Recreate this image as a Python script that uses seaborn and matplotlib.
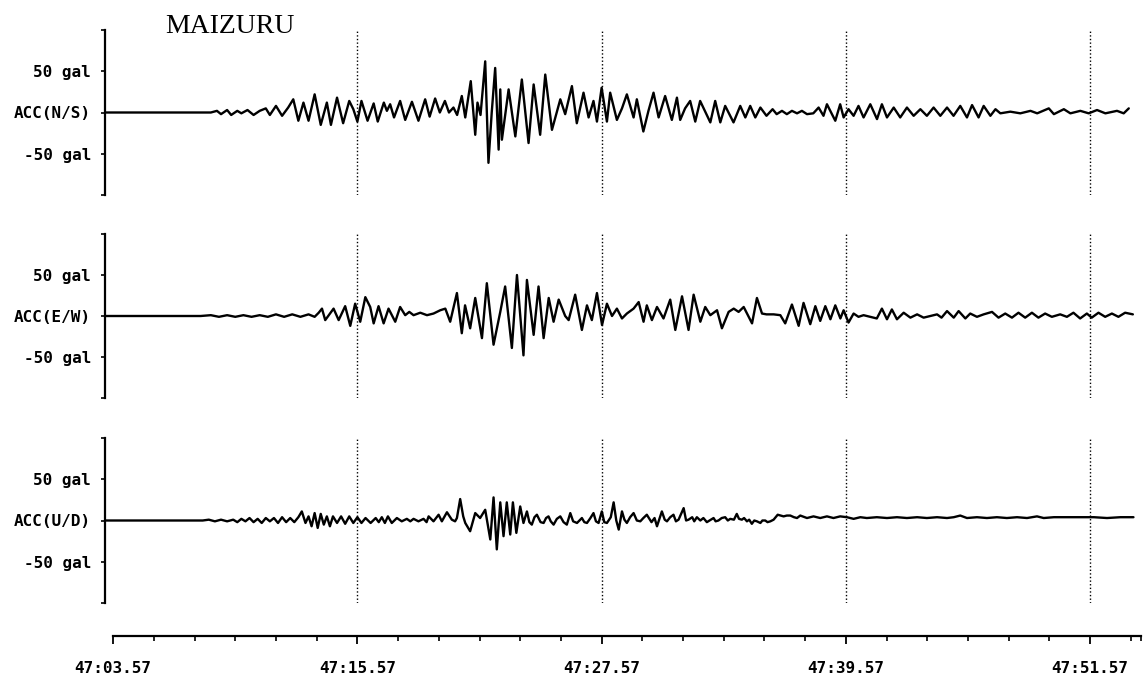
import pandas as pd
import matplotlib
matplotlib.use("Agg")
import matplotlib.pyplot as plt
import seaborn as sns

station = "MAIZURU"
components = ["ACC(N/S)", "ACC(E/W)", "ACC(U/D)"]
tick_times = [0, 12, 24, 36, 48]
tick_labels = ["47:03.57", "47:15.57", "47:27.57", "47:39.57", "47:51.57"]
minor_times = [2, 4, 6, 8, 10, 14, 16, 18, 20, 22, 26, 28, 30, 32, 34,
               38, 40, 42, 44, 46, 50, 50.5]

# (seconds after 47:03.57, gal), peak by peak
ns_acc = [(-0.4, 0), (4.8, 0), (5.1, 2), (5.3, -2), (5.6, 3), (5.8, -3), (6.1, 2), (6.3, -1),
          (6.6, 3), (6.9, -3), (7.2, 2), (7.5, 5), (7.7, -3), (8.0, 8), (8.3, -4), (8.6, 6),
          (8.85, 16), (9.1, -10), (9.35, 12), (9.6, -10), (9.9, 22), (10.2, -15), (10.5, 12),
          (10.7, -15), (11.0, 18), (11.3, -13), (11.6, 14), (11.8, 4), (12.0, -11), (12.2, 14),
          (12.5, -10), (12.8, 11), (13.0, -11), (13.3, 12), (13.45, 2), (13.61, 10), (13.8, -6),
          (14.1, 14), (14.35, -9), (14.68, 13), (15.0, -10), (15.33, 16), (15.55, -5),
          (15.82, 17), (16.05, 0), (16.3, 14), (16.5, 0), (16.72, 6), (16.9, -3), (17.13, 20),
          (17.3, -6), (17.57, 38), (17.79, -27), (17.9, 12), (18.05, -3), (18.28, 62),
          (18.44, -61), (18.6, 0), (18.77, 54), (18.94, -45), (19.02, 28), (19.1, -33),
          (19.43, 28), (19.76, -29), (20.08, 40), (20.41, -37), (20.66, 34), (20.98, -27),
          (21.23, 46), (21.56, -21), (21.97, 16), (22.21, -2), (22.54, 32), (22.78, -13),
          (23.11, 24), (23.36, -6), (23.6, 14), (23.77, -11), (24.0, 30), (24.26, -11),
          (24.42, 24), (24.75, -9), (25.0, 5), (25.24, 22), (25.57, -6), (25.73, 16),
          (26.05, -23), (26.3, 2), (26.55, 24), (26.8, -6), (27.12, 20), (27.45, -9),
          (27.7, 18), (27.86, -9), (28.1, 5), (28.35, 14), (28.6, -11), (28.84, 14),
          (29.34, -12), (29.58, 14), (29.83, -12), (30.07, 8), (30.48, -12), (30.81, 8),
          (31.06, -6), (31.3, 8), (31.55, -6), (31.8, 6), (32.1, -4), (32.4, 4), (32.6, -2),
          (32.86, 2), (33.1, -2), (33.35, 2), (33.6, -1), (33.84, 2), (34.09, -2), (34.4, -1),
          (34.66, 6), (34.9, -4), (35.07, 10), (35.48, -10), (35.72, 10), (35.89, -6),
          (36.13, 4), (36.38, -4), (36.62, 8), (36.87, -6), (37.2, 10), (37.53, -8),
          (37.77, 10), (38.02, -6), (38.35, 6), (38.67, -6), (39.0, 6), (39.33, -4),
          (39.66, 4), (39.98, -4), (40.31, 6), (40.64, -4), (40.97, 6), (41.29, -4),
          (41.62, 8), (41.95, -6), (42.2, 9), (42.52, -6), (42.77, 8), (43.1, -4), (43.35, 4),
          (43.59, -1), (44.08, 1), (44.57, -1), (45.07, 2), (45.4, -1), (45.97, 5), (46.22, -2),
          (46.71, 4), (47.03, -1), (47.52, 2), (47.93, -1), (48.34, 3), (48.75, -1),
          (49.32, 2), (49.65, -1), (49.9, 5)]

ew_acc = [(-0.4, 0), (4.3, 0), (4.8, 1), (5.2, -1), (5.6, 1), (6.0, -1), (6.4, 1), (6.8, -1),
          (7.2, 1), (7.6, -1), (8.0, 2), (8.4, -1), (8.8, 2), (9.2, -1), (9.6, 2), (9.9, -1),
          (10.1, 4), (10.26, 9), (10.42, -5), (10.83, 9), (11.08, -5), (11.4, 12), (11.65, -12),
          (11.89, 15), (12.14, -7), (12.39, 23), (12.63, 11), (12.8, -9), (13.04, 12),
          (13.29, -9), (13.53, 9), (13.86, -7), (14.1, 11), (14.35, 1), (14.55, 5), (14.76, 1),
          (15.09, 4), (15.42, 1), (15.74, 3), (16.07, 7), (16.32, 9), (16.56, -7), (16.89, 28),
          (17.13, -21), (17.29, 13), (17.54, -15), (17.79, 22), (18.12, -27), (18.36, 40),
          (18.69, -35), (18.94, -5), (19.02, 5), (19.26, 36), (19.59, -39), (19.84, 50),
          (20.16, -48), (20.33, 44), (20.66, -23), (20.9, 36), (21.15, -27), (21.4, 22),
          (21.64, -7), (21.89, 20), (22.21, 0), (22.38, -5), (22.7, 26), (23.03, -17),
          (23.28, 13), (23.52, -5), (23.77, 28), (24.02, -11), (24.26, 15), (24.51, 0),
          (24.75, 9), (25.0, -3), (25.24, 3), (25.57, 9), (25.82, 17), (26.06, -7),
          (26.22, 13), (26.47, -5), (26.72, 11), (27.04, -3), (27.37, 20), (27.62, -17),
          (27.95, 24), (28.27, -17), (28.52, 26), (28.85, -7), (29.09, 11), (29.34, 1),
          (29.67, 7), (29.91, -15), (30.24, 5), (30.49, 9), (30.73, 5), (30.98, 11),
          (31.39, -9), (31.63, 22), (31.88, 3), (32.1, 2), (32.45, 2), (32.78, 1), (33.02, -9),
          (33.35, 14), (33.68, -12), (33.92, 16), (34.25, -10), (34.5, 12), (34.74, -6),
          (34.99, 12), (35.24, -4), (35.48, 13), (35.73, -3), (35.89, 7), (36.13, -8),
          (36.38, 3), (36.62, -1), (36.87, 1), (37.2, -1), (37.52, -3), (37.77, 9), (38.02, -4),
          (38.26, 8), (38.51, -4), (38.84, 4), (39.17, -2), (39.5, 2), (39.82, -2), (40.15, 0),
          (40.48, 2), (40.7, -2), (40.97, 6), (41.3, -2), (41.54, 6), (41.87, -3), (42.11, 3),
          (42.44, -1), (42.77, 2), (43.18, 5), (43.5, -2), (43.83, 3), (44.16, -2), (44.48, 4),
          (44.81, -2), (45.14, 4), (45.46, -2), (45.79, 3), (46.12, -1), (46.53, 2),
          (46.86, -1), (47.18, 4), (47.51, -3), (47.84, 3), (48.08, -2), (48.41, 4),
          (48.74, -1), (49.07, 3), (49.39, -1), (49.72, 4), (50.1, 2)]

ud_acc = [(-0.4, 0), (4.4, 0), (4.7, 1), (5.0, -1), (5.3, 1), (5.6, -1), (5.9, 1), (6.1, -2),
          (6.3, 2), (6.5, -1), (6.7, 3), (6.9, -2), (7.1, 2), (7.3, -3), (7.5, 3), (7.7, -1),
          (7.9, 3), (8.1, -3), (8.3, 4), (8.5, -2), (8.7, 3), (8.9, -2), (9.1, 4), (9.27, 11),
          (9.45, -3), (9.6, 5), (9.75, -7), (9.9, 9), (10.05, -9), (10.2, 8), (10.35, -5),
          (10.5, 5), (10.65, -7), (10.8, 5), (11.0, -3), (11.2, 5), (11.4, -4), (11.6, 5),
          (11.8, -3), (12.0, 4), (12.2, -3), (12.4, 3), (12.65, -3), (12.9, 3), (13.05, -2),
          (13.2, 4), (13.35, -3), (13.5, 5), (13.69, -3), (13.94, 3), (14.18, -1), (14.43, 2),
          (14.6, -1), (14.76, 2), (15.0, -1), (15.25, 2), (15.4, -2), (15.5, 5), (15.74, -1),
          (15.99, 7), (16.15, -1), (16.4, 10), (16.64, 1), (16.8, -1), (16.89, 3), (17.05, 26),
          (17.2, 5), (17.3, -3), (17.54, -13), (17.79, 9), (18.03, 3), (18.28, 13),
          (18.53, -23), (18.69, 28), (18.85, -35), (19.02, 22), (19.18, -19), (19.34, 22),
          (19.51, -17), (19.64, 22), (19.81, -15), (20.0, 17), (20.16, -3), (20.33, 11),
          (20.45, -2), (20.57, -5), (20.7, 4), (20.82, 7), (21.0, -2), (21.15, -3), (21.27, 3),
          (21.39, 5), (21.5, -1), (21.64, -5), (21.8, 2), (21.97, 5), (22.13, -2), (22.29, -5),
          (22.46, 9), (22.6, -1), (22.79, -3), (23.03, 3), (23.15, -2), (23.28, -3),
          (23.45, 3), (23.6, 9), (23.72, -1), (23.85, -3), (24.01, 11), (24.13, -2),
          (24.26, -3), (24.45, 4), (24.59, 22), (24.72, 0), (24.84, -11), (25.0, 11),
          (25.12, 1), (25.24, -3), (25.4, 4), (25.57, 9), (25.73, 0), (25.9, -1), (26.05, 3),
          (26.22, 7), (26.45, -2), (26.6, 3), (26.72, -7), (26.96, 11), (27.1, 1), (27.21, -1),
          (27.37, 4), (27.53, 7), (27.65, -1), (27.78, 1), (28.03, 15), (28.15, 0), (28.27, 1),
          (28.45, 4), (28.55, -1), (28.68, 4), (28.85, 0), (29.0, 3), (29.17, -2), (29.5, 3),
          (29.6, -1), (29.74, 0), (29.9, 3), (30.07, 4), (30.2, 0), (30.32, 2), (30.5, 1),
          (30.64, 8), (30.75, 2), (30.89, 1), (31.0, 3), (31.14, -1), (31.25, 1), (31.38, -4),
          (31.5, 0), (31.63, -1), (31.8, -3), (31.9, 0), (32.04, 0), (32.15, -2), (32.29, -1),
          (32.45, 1), (32.65, 7), (32.94, 5), (33.1, 6), (33.27, 6), (33.45, 4), (33.6, 3),
          (33.76, 6), (34.09, 3), (34.41, 5), (34.74, 3), (35.07, 5), (35.39, 3), (35.72, 5),
          (36.05, 4), (36.38, 2), (36.71, 4), (37.03, 3), (37.52, 4), (38.02, 3), (38.51, 4),
          (39.0, 3), (39.5, 4), (39.98, 3), (40.48, 4), (40.97, 3), (41.3, 4), (41.62, 6),
          (41.95, 3), (42.44, 4), (42.93, 3), (43.42, 4), (43.91, 3), (44.41, 4), (44.9, 3),
          (45.39, 5), (45.72, 3), (46.22, 4), (46.86, 4), (47.52, 4), (48.18, 4), (48.83, 3),
          (49.49, 4), (50.13, 4)]

traces = [ns_acc, ew_acc, ud_acc]

sns.set_style("white", {"xtick.bottom": True, "ytick.left": True,
                        "text.color": "black", "xtick.color": "black",
                        "ytick.color": "black", "axes.edgecolor": "black"})
mono = {"family": "DejaVu Sans Mono", "weight": "bold", "size": 11.5, "color": "black"}

W, H = 1145, 682
fig = plt.figure(figsize=(W / 100, H / 100), dpi=100)


def px_axes(left, top, right, bottom):
    return fig.add_axes([left / W, 1 - bottom / H, (right - left) / W, (bottom - top) / H])


t_min, t_max = -0.4, 50.5
panel_rows = [(30, 195), (234, 398), (438, 603)]

for comp, data, (top, bottom) in zip(components, traces, panel_rows):
    ax = px_axes(105, top, 1141, bottom)
    df = pd.DataFrame(data, columns=["t", "acc"])
    for tt in tick_times[1:]:
        ax.axvline(tt, color="black", lw=1.0, ls=(0, (1, 1.6)), zorder=1)
    sns.lineplot(data=df, x="t", y="acc", ax=ax, color="black", lw=1.7,
                 estimator=None, zorder=3, solid_joinstyle="round")
    ax.set_xlim(t_min, t_max)
    ax.set_ylim(-100, 100)
    for side in ["top", "right", "bottom"]:
        ax.spines[side].set_visible(False)
    ax.spines["left"].set_linewidth(1.6)
    ax.set_xticks([])
    ax.set_yticks([-100, -50, 0, 50, 100])
    ax.set_yticklabels(["", "-50 gal", comp, "50 gal", ""], fontdict=mono)
    ax.tick_params(axis="y", left=True, direction="out", length=3, width=1.2, pad=7)
    ax.set_xlabel("")
    ax.set_ylabel("")
    ax.patch.set_alpha(0)

# time axis
axt = px_axes(105, 595, 1141, 636)
axt.set_xlim(t_min, t_max)
axt.set_ylim(0, 1)
for side in ["top", "right", "left"]:
    axt.spines[side].set_visible(False)
axt.spines["bottom"].set_bounds(0, t_max)
axt.spines["bottom"].set_linewidth(1.6)
axt.set_yticks([])
axt.set_xticks(tick_times)
axt.set_xticklabels(tick_labels, fontdict=mono)
axt.set_xticks(minor_times, minor=True)
axt.tick_params(axis="x", which="major", bottom=True, direction="out",
                length=6, width=1.3, pad=12)
axt.tick_params(axis="x", which="minor", bottom=True, direction="out",
                length=3.5, width=1.2)
axt.patch.set_alpha(0)

fig.text(165 / W, 1 - 33 / H, station, family="Liberation Serif", size=20,
         color="black", va="baseline", ha="left")

fig.savefig("out.png", dpi=100)
